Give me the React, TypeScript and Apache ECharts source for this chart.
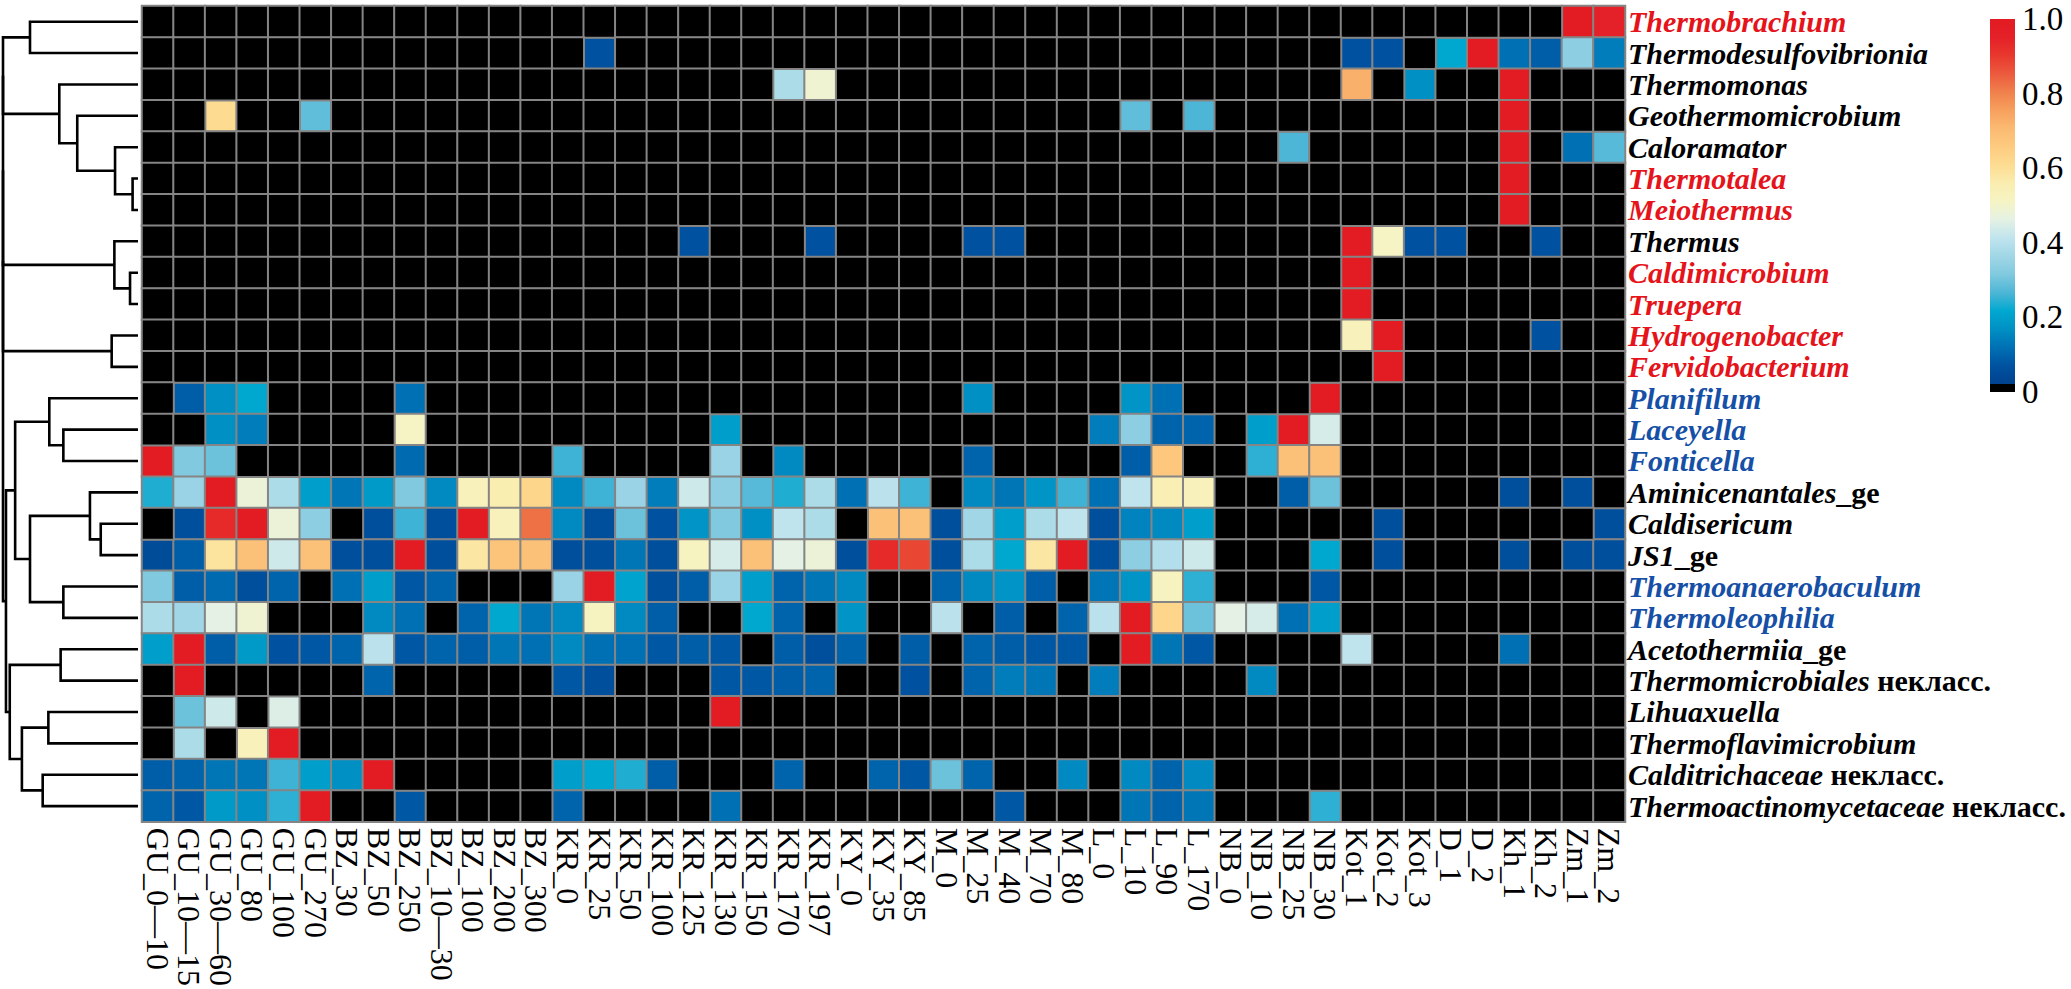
import React, { useEffect, useRef } from 'react';
import * as echarts from 'echarts';

// ---------- data ----------
const columns = ['GU_0—10', 'GU_10—15', 'GU_30—60', 'GU_80', 'GU_100', 'GU_270', 'BZ_30', 'BZ_50', 'BZ_250', 'BZ_10—30', 'BZ_100', 'BZ_200', 'BZ_300', 'KR_0', 'KR_25', 'KR_50', 'KR_100', 'KR_125', 'KR_130', 'KR_150', 'KR_170', 'KR_197', 'KY_0', 'KY_35', 'KY_85', 'M_0', 'M_25', 'M_40', 'M_70', 'M_80', 'L_0', 'L_10', 'L_90', 'L_170', 'NB_0', 'NB_10', 'NB_25', 'NB_30', 'Kot_1', 'Kot_2', 'Kot_3', 'D_1', 'D_2', 'Kh_1', 'Kh_2', 'Zm_1', 'Zm_2'];

const rowTaxa = ['Thermobrachium', 'Thermodesulfovibrionia', 'Thermomonas', 'Geothermomicrobium', 'Caloramator', 'Thermotalea', 'Meiothermus', 'Thermus', 'Caldimicrobium', 'Truepera', 'Hydrogenobacter', 'Fervidobacterium', 'Planifilum', 'Laceyella', 'Fonticella', 'Aminicenantales', 'Caldisericum', 'JS1', 'Thermoanaerobaculum', 'Thermoleophilia', 'Acetothermiia', 'Thermomicrobiales', 'Lihuaxuella', 'Thermoflavimicrobium', 'Calditrichaceae', 'Thermoactinomycetaceae'];
const rowSuffix = ['', '', '', '', '', '', '', '', '', '', '', '', '', '', '', '_ge', '', '_ge', '', '', '_ge', ' некласс.', '', '', ' некласс.', ' некласс.'];
const rowGroup = ['r', 'k', 'k', 'k', 'k', 'r', 'r', 'k', 'r', 'r', 'r', 'r', 'b', 'b', 'b', 'k', 'k', 'k', 'b', 'b', 'k', 'k', 'k', 'k', 'k', 'k'];

const values: number[][] = [
  [0,0,0,0,0,0,0,0,0,0, 0,0,0,0,0,0,0,0,0,0, 0,0,0,0,0,0,0,0,0,0, 0,0,0,0,0,0,0,0,0,0, 0,0,0,0,0,1.0,0.95],
  [0,0,0,0,0,0,0,0,0,0, 0,0,0,0,0.05,0,0,0,0,0, 0,0,0,0,0,0,0,0,0,0, 0,0,0,0,0,0,0,0,0.05,0.05, 0,0.2,1.0,0.1,0.07,0.32,0.12],
  [0,0,0,0,0,0,0,0,0,0, 0,0,0,0,0,0,0,0,0,0, 0.37,0.48,0,0,0,0,0,0,0,0, 0,0,0,0,0,0,0,0,0.72,0, 0.15,0,0,1.0,0,0,0],
  [0,0,0.6,0,0,0.27,0,0,0,0, 0,0,0,0,0,0,0,0,0,0, 0,0,0,0,0,0,0,0,0,0, 0,0.27,0,0.25,0,0,0,0,0,0, 0,0,0,1.0,0,0,0],
  [0,0,0,0,0,0,0,0,0,0, 0,0,0,0,0,0,0,0,0,0, 0,0,0,0,0,0,0,0,0,0, 0,0,0,0,0,0,0.25,0,0,0, 0,0,0,1.0,0,0.1,0.26],
  [0,0,0,0,0,0,0,0,0,0, 0,0,0,0,0,0,0,0,0,0, 0,0,0,0,0,0,0,0,0,0, 0,0,0,0,0,0,0,0,0,0, 0,0,0,1.0,0,0,0],
  [0,0,0,0,0,0,0,0,0,0, 0,0,0,0,0,0,0,0,0,0, 0,0,0,0,0,0,0,0,0,0, 0,0,0,0,0,0,0,0,0,0, 0,0,0,1.0,0,0,0],
  [0,0,0,0,0,0,0,0,0,0, 0,0,0,0,0,0,0,0.05,0,0, 0,0.05,0,0,0,0,0.05,0.05,0,0, 0,0,0,0,0,0,0,0,1.0,0.5, 0.05,0.05,0,0,0.05,0,0],
  [0,0,0,0,0,0,0,0,0,0, 0,0,0,0,0,0,0,0,0,0, 0,0,0,0,0,0,0,0,0,0, 0,0,0,0,0,0,0,0,1.0,0, 0,0,0,0,0,0,0],
  [0,0,0,0,0,0,0,0,0,0, 0,0,0,0,0,0,0,0,0,0, 0,0,0,0,0,0,0,0,0,0, 0,0,0,0,0,0,0,0,1.0,0, 0,0,0,0,0,0,0],
  [0,0,0,0,0,0,0,0,0,0, 0,0,0,0,0,0,0,0,0,0, 0,0,0,0,0,0,0,0,0,0, 0,0,0,0,0,0,0,0,0.52,1.0, 0,0,0,0,0.05,0,0],
  [0,0,0,0,0,0,0,0,0,0, 0,0,0,0,0,0,0,0,0,0, 0,0,0,0,0,0,0,0,0,0, 0,0,0,0,0,0,0,0,0,1.0, 0,0,0,0,0,0,0],
  [0,0.07,0.15,0.2,0,0,0,0,0.1,0, 0,0,0,0,0,0,0,0,0,0, 0,0,0,0,0,0,0.15,0,0,0, 0,0.16,0.1,0,0,0,0,1.0,0,0, 0,0,0,0,0,0,0],
  [0,0,0.15,0.12,0,0,0,0,0.5,0, 0,0,0,0,0,0,0,0,0.18,0, 0,0,0,0,0,0,0,0,0,0, 0.12,0.32,0.08,0.08,0,0.18,1.0,0.43,0,0, 0,0,0,0,0,0,0],
  [1.0,0.3,0.28,0,0,0,0,0,0.09,0, 0,0,0,0.24,0,0,0,0,0.34,0, 0.14,0,0,0,0,0,0.08,0,0,0, 0,0.07,0.66,0,0,0.23,0.68,0.68,0,0, 0,0,0,0,0,0,0],
  [0.22,0.34,1.0,0.47,0.37,0.18,0.11,0.17,0.3,0.14, 0.52,0.55,0.62,0.14,0.24,0.34,0.12,0.42,0.32,0.26, 0.22,0.37,0.1,0.39,0.24,0,0.14,0.11,0.16,0.24, 0.1,0.4,0.54,0.52,0,0,0.07,0.28,0,0, 0,0,0,0.04,0,0.04,0],
  [0,0.04,0.93,1.0,0.47,0.32,0,0.04,0.24,0.04, 1.0,0.52,0.82,0.14,0.04,0.28,0.05,0.16,0.3,0.15, 0.4,0.37,0,0.68,0.68,0.04,0.35,0.18,0.37,0.4, 0.04,0.13,0.14,0.18,0,0,0,0,0,0.04, 0,0,0,0,0,0,0.04],
  [0.03,0.07,0.58,0.68,0.42,0.68,0.04,0.04,1.0,0.04, 0.57,0.67,0.68,0.04,0.04,0.11,0.04,0.51,0.43,0.68, 0.45,0.47,0.04,0.93,0.88,0.04,0.37,0.2,0.57,1.0, 0.04,0.32,0.38,0.42,0,0,0,0.2,0,0.04, 0,0,0,0.04,0,0.04,0.04],
  [0.3,0.07,0.09,0.04,0.08,0,0.1,0.18,0.06,0.08, 0,0,0,0.34,1.0,0.19,0.04,0.07,0.34,0.18, 0.08,0.11,0.14,0,0,0.08,0.14,0.16,0.07,0, 0.11,0.16,0.51,0.23,0,0,0,0.06,0,0, 0,0,0,0,0,0,0],
  [0.37,0.35,0.45,0.48,0,0,0,0.14,0.1,0, 0.08,0.2,0.11,0.14,0.51,0.14,0.07,0,0,0.2, 0.08,0,0.16,0,0,0.39,0,0.07,0,0.08, 0.39,1.0,0.62,0.28,0.45,0.43,0.1,0.18,0,0, 0,0,0,0,0,0,0],
  [0.18,1.0,0.07,0.17,0.05,0.06,0.08,0.39,0.06,0.08, 0.07,0.11,0.1,0.14,0.1,0.1,0.06,0.07,0.06,0, 0.07,0.04,0.08,0,0.07,0,0.08,0.07,0.06,0.06, 0,1.0,0.11,0.06,0,0,0,0,0.4,0, 0,0,0,0.1,0,0,0],
  [0,1.0,0,0,0,0,0,0.08,0,0, 0,0,0,0.06,0.04,0,0,0,0.06,0.06, 0.07,0.08,0,0,0.05,0,0.08,0.12,0.11,0, 0.12,0,0,0,0,0.14,0,0,0,0, 0,0,0,0,0,0,0],
  [0,0.28,0.42,0,0.44,0,0,0,0,0, 0,0,0,0,0,0,0,0,1.0,0, 0,0,0,0,0,0,0,0,0,0, 0,0,0,0,0,0,0,0,0,0, 0,0,0,0,0,0,0],
  [0,0.37,0,0.52,1.0,0,0,0,0,0, 0,0,0,0,0,0,0,0,0,0, 0,0,0,0,0,0,0,0,0,0, 0,0,0,0,0,0,0,0,0,0, 0,0,0,0,0,0,0],
  [0.07,0.08,0.11,0.11,0.24,0.18,0.15,1.0,0,0, 0,0,0,0.18,0.2,0.22,0.07,0,0,0, 0.08,0,0,0.08,0.06,0.28,0.08,0,0,0.14, 0,0.14,0.08,0.14,0,0,0,0,0,0, 0,0,0,0,0,0,0],
  [0.08,0.06,0.17,0.15,0.23,1.0,0,0,0.06,0, 0,0,0,0.08,0,0,0,0,0.1,0, 0,0,0,0,0,0,0,0.06,0,0, 0,0.11,0.08,0.11,0,0,0,0.23,0,0, 0,0,0,0,0,0,0],
];

// colour scale (0 -> 1, evenly spaced)
const cmap = ['#00428F', '#0052A0', '#0070B4', '#0090C4', '#00A8D0', '#4DB6D6', '#80C9DF', '#A0D6E6', '#C0E4EE', '#E4F1E4', '#F6F4C4', '#FAEDB0', '#FDDC92', '#FDCB80', '#FBBA72', '#F7A05E', '#F0804C', '#EC5A3E', '#E8382E', '#E42028', '#E31B23'];
const cbTicks = [0, 0.2, 0.4, 0.6, 0.8, 1.0];
const cbTickLabels = ['0', '0.2', '0.4', '0.6', '0.8', '1.0'];

// hierarchical clustering of rows: [childA, childB, linkage distance]; leaves 0..25, nodes 26..
const linkage: [number, number, number][] = [
  [5, 6, 0.04],
  [4, 26, 0.17],
  [3, 27, 0.45],
  [2, 28, 0.583],
  [0, 1, 0.8],
  [8, 9, 0.059],
  [7, 31, 0.175],
  [10, 11, 0.195],
  [13, 14, 0.553],
  [12, 34, 0.657],
  [16, 17, 0.276],
  [15, 36, 0.356],
  [18, 19, 0.553],
  [37, 38, 0.8],
  [35, 39, 0.91],
  [20, 21, 0.573],
  [22, 23, 0.664],
  [24, 25, 0.706],
  [42, 43, 0.86],
  [41, 44, 0.95],
  [40, 45, 0.978],
  [30, 29, 1.0],
  [47, 32, 1.0],
  [48, 33, 1.0],
  [49, 46, 1.0],
];

// ---------- layout ----------
const GRID_LEFT = 142;
const GRID_TOP = 6;
const GRID_W = 1483;
const GRID_H = 820;
const LEAF_X = 138;
const DENDRO_W = 135;
const CB_X = 1990;
const CB_TOP = 19;
const CB_GRAD_BOTTOM = 384;
const CB_ZERO_Y = 392;
const SERIF = 'Liberation Serif';

export default function App() {
  const ref = useRef<HTMLDivElement>(null);

  useEffect(() => {
    if (!ref.current) return;
    const chart = echarts.init(ref.current, null, { renderer: 'svg' });

    const nonZero: number[][] = [];
    const zero: number[][] = [];
    values.forEach((row, r) => {
      row.forEach((v, c) => {
        if (v > 0) nonZero.push([c, r, v]);
        else zero.push([c, r, 0]);
      });
    });

    const rowCats = rowTaxa.map((t, i) => t + rowSuffix[i]);
    const textBase = { fontFamily: SERIF, fontSize: 30, fontWeight: 'bold' as const };

    chart.setOption({
      animation: false,
      grid: { left: GRID_LEFT, top: GRID_TOP, width: GRID_W, height: GRID_H, containLabel: false },
      xAxis: {
        type: 'category',
        data: columns,
        position: 'bottom',
        axisLine: { show: false },
        axisTick: { show: false },
        splitLine: { show: false },
        axisLabel: {
          rotate: -90,
          interval: 0,
          margin: 6,
          color: '#000',
          fontFamily: SERIF,
          fontSize: 32,
        },
      },
      yAxis: {
        type: 'category',
        data: rowCats,
        inverse: true,
        position: 'right',
        axisLine: { show: false },
        axisTick: { show: false },
        splitLine: { show: false },
        axisLabel: {
          interval: 0,
          margin: 3,
          formatter: (_v: string, i: number) =>
            `{${rowGroup[i]}|${rowTaxa[i]}}` + (rowSuffix[i] ? `{n|${rowSuffix[i]}}` : ''),
          rich: {
            r: { ...textBase, fontStyle: 'italic', color: '#E5141B' },
            b: { ...textBase, fontStyle: 'italic', color: '#1650A6' },
            k: { ...textBase, fontStyle: 'italic', color: '#000' },
            n: { ...textBase, fontStyle: 'normal', color: '#000' },
          },
        },
      },
      visualMap: [
        { type: 'continuous', seriesIndex: 0, dimension: 2, min: 0, max: 1, show: false, inRange: { color: cmap } },
        { type: 'piecewise', seriesIndex: 1, dimension: 2, show: false, pieces: [{ min: -1, max: 1, color: '#000' }] },
      ],
      series: [
        {
          type: 'heatmap',
          data: nonZero,
          itemStyle: { borderColor: '#858585', borderWidth: 2 },
          emphasis: { disabled: true },
          silent: true,
        },
        {
          type: 'heatmap',
          data: zero,
          itemStyle: { color: '#000', borderColor: '#858585', borderWidth: 2 },
          emphasis: { disabled: true },
          silent: true,
        },
      ],
    });

    // dendrogram
    const nLeaves = rowTaxa.length;
    const nx: number[] = [];
    const ny: number[] = [];
    for (let r = 0; r < nLeaves; r++) {
      const p = chart.convertToPixel({ xAxisIndex: 0, yAxisIndex: 0 }, [0, r]) as number[];
      nx[r] = LEAF_X;
      ny[r] = p[1];
    }
    const dendro: any[] = [];
    linkage.forEach(([a, b, h], k) => {
      const id = nLeaves + k;
      const x = LEAF_X - h * DENDRO_W;
      nx[id] = x;
      ny[id] = (ny[a] + ny[b]) / 2;
      dendro.push({
        type: 'polyline',
        silent: true,
        shape: { points: [[nx[a], ny[a]], [x, ny[a]], [x, ny[b]], [nx[b], ny[b]]] },
        style: { stroke: '#000', lineWidth: 2.6, fill: null, lineJoin: 'miter' },
      });
    });

    // colour bar
    const stops = cmap
      .map((c, i) => ({ offset: 1 - i / (cmap.length - 1), color: c }))
      .reverse();
    const cb: any[] = [
      {
        type: 'rect',
        silent: true,
        shape: { x: CB_X, y: CB_TOP, width: 25, height: CB_GRAD_BOTTOM - CB_TOP },
        style: { fill: new echarts.graphic.LinearGradient(0, 0, 0, 1, stops) },
      },
      {
        type: 'rect',
        silent: true,
        shape: { x: CB_X, y: CB_GRAD_BOTTOM, width: 25, height: 8 },
        style: { fill: '#000' },
      },
    ];
    cbTicks.forEach((v, i) => {
      cb.push({
        type: 'text',
        silent: true,
        x: CB_X + 32,
        y: CB_ZERO_Y - v * (CB_ZERO_Y - CB_TOP),
        style: {
          text: cbTickLabels[i],
          fill: '#000',
          font: `33px "${SERIF}"`,
          fontFamily: SERIF,
          fontSize: 33,
          textAlign: 'left',
          verticalAlign: 'middle',
        },
      });
    });

    chart.setOption({ graphic: [...dendro, ...cb] });

    return () => chart.dispose();
  }, []);

  return (
    <div
      ref={ref}
      style={{ position: 'absolute', left: 0, top: 0, width: 2071, height: 989, background: '#fff' }}
    />
  );
}
